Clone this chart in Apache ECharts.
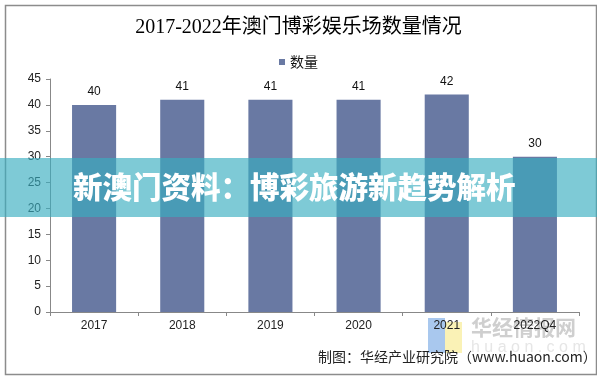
<!DOCTYPE html>
<html>
<head>
<meta charset="utf-8">
<script src="https://cdn.jsdelivr.net/npm/echarts@6/dist/echarts.min.js"></script>
<style>
html,body{margin:0;padding:0;background:#fff;}
#chart{width:597px;height:378px;}
</style>
</head>
<body>
<div id="chart"></div>
<script>
var categories = ['2017', '2018', '2019', '2020', '2021', '2022Q4'];
var casinoCounts = [40, 41, 41, 41, 42, 30];
var seriesName = '数量';
var titleText = '2017-2022年澳门博彩娱乐场数量情况';
var bannerText = '新澳门资料：博彩旅游新趋势解析';
var sourceText = '制图：华经产业研究院（www.huaon.com）';

var chart = echarts.init(document.getElementById('chart'), null, {renderer: 'canvas'});
var option = {
  backgroundColor: '#ffffff',
  animation: false,
  title: {
    text: titleText,
    left: 'center',
    top: 13,
    textStyle: {fontFamily: '"Liberation Serif", "Noto Sans CJK SC", serif', fontSize: 20, fontWeight: 'normal', color: '#000'}
  },
  legend: {
    data: [seriesName],
    top: 50,
    left: 'center',
    icon: 'rect',
    itemWidth: 6,
    itemHeight: 6,
    itemGap: 4,
    textStyle: {fontFamily: '"Noto Sans CJK SC", sans-serif', fontSize: 14, color: '#111'}
  },
  grid: {left: 50, right: 18, top: 79, bottom: 66, containLabel: false},
  xAxis: {
    type: 'category',
    data: categories,
    z: 5,
    axisLine: {lineStyle: {color: '#888', width: 1}},
    axisTick: {show: true, length: 4, alignWithLabel: false, lineStyle: {color: '#888'}},
    axisLabel: {margin: 8, fontFamily: '"Liberation Sans", Arial, sans-serif', fontSize: 12, color: '#222'}
  },
  yAxis: {
    type: 'value',
    min: 0,
    max: 45,
    interval: 5,
    splitLine: {show: false},
    axisLine: {show: true, lineStyle: {color: '#888', width: 1}},
    axisTick: {show: true, length: 4, lineStyle: {color: '#888'}},
    axisLabel: {margin: 9, fontFamily: '"Liberation Sans", Arial, sans-serif', fontSize: 12, color: '#222'}
  },
  series: [{
    name: seriesName,
    type: 'bar',
    data: casinoCounts,
    barWidth: '50%',
    itemStyle: {color: '#6979a3'},
    label: {show: true, position: 'top', distance: 7, fontFamily: '"Liberation Sans", Arial, sans-serif', fontSize: 12, color: '#111'}
  }],
  graphic: [
    {type: 'rect', left: 3, top: 3, z: 100, silent: true,
     shape: {width: 591, height: 369}, style: {fill: 'none', stroke: '#8c8c8c', lineWidth: 1.5}},
    {type: 'rect', left: 428, top: 318, z: -10, silent: true, shape: {width: 17, height: 35}, style: {fill: '#a9c8ee'}},
    {type: 'rect', left: 445, top: 322, z: -10, silent: true, shape: {width: 17, height: 31}, style: {fill: '#faf2b6'}},
    {type: 'text', left: 471, top: 317, z: -10, silent: true,
     style: {text: '华经情报网', font: 'bold 21px "Noto Sans CJK SC", sans-serif', fill: '#cfcfcf'}},
    {type: 'text', left: 471, top: 340, z: -10, silent: true,
     style: {text: 'h u a o n . c o m', font: '16px "Liberation Sans", sans-serif', fill: '#e6e6e6'}},
    {type: 'text', left: 318, top: 350, z: 50, silent: true,
     style: {text: sourceText, font: '14px "Noto Sans CJK SC", sans-serif', fill: '#222'}},
    {type: 'rect', left: 0, top: 158, z: 200, silent: true,
     shape: {width: 597, height: 59}, style: {fill: 'rgba(57,174,192,0.65)'}},
    {type: 'text', left: 73, top: 172, z: 201, silent: true,
     style: {text: bannerText, font: '900 29.5px "Noto Sans CJK SC", sans-serif', fill: '#ffffff',
             shadowColor: 'rgba(0,0,0,0.25)', shadowBlur: 2, shadowOffsetX: 1, shadowOffsetY: 1}}
  ]
};
chart.setOption(option);
</script>
</body>
</html>
